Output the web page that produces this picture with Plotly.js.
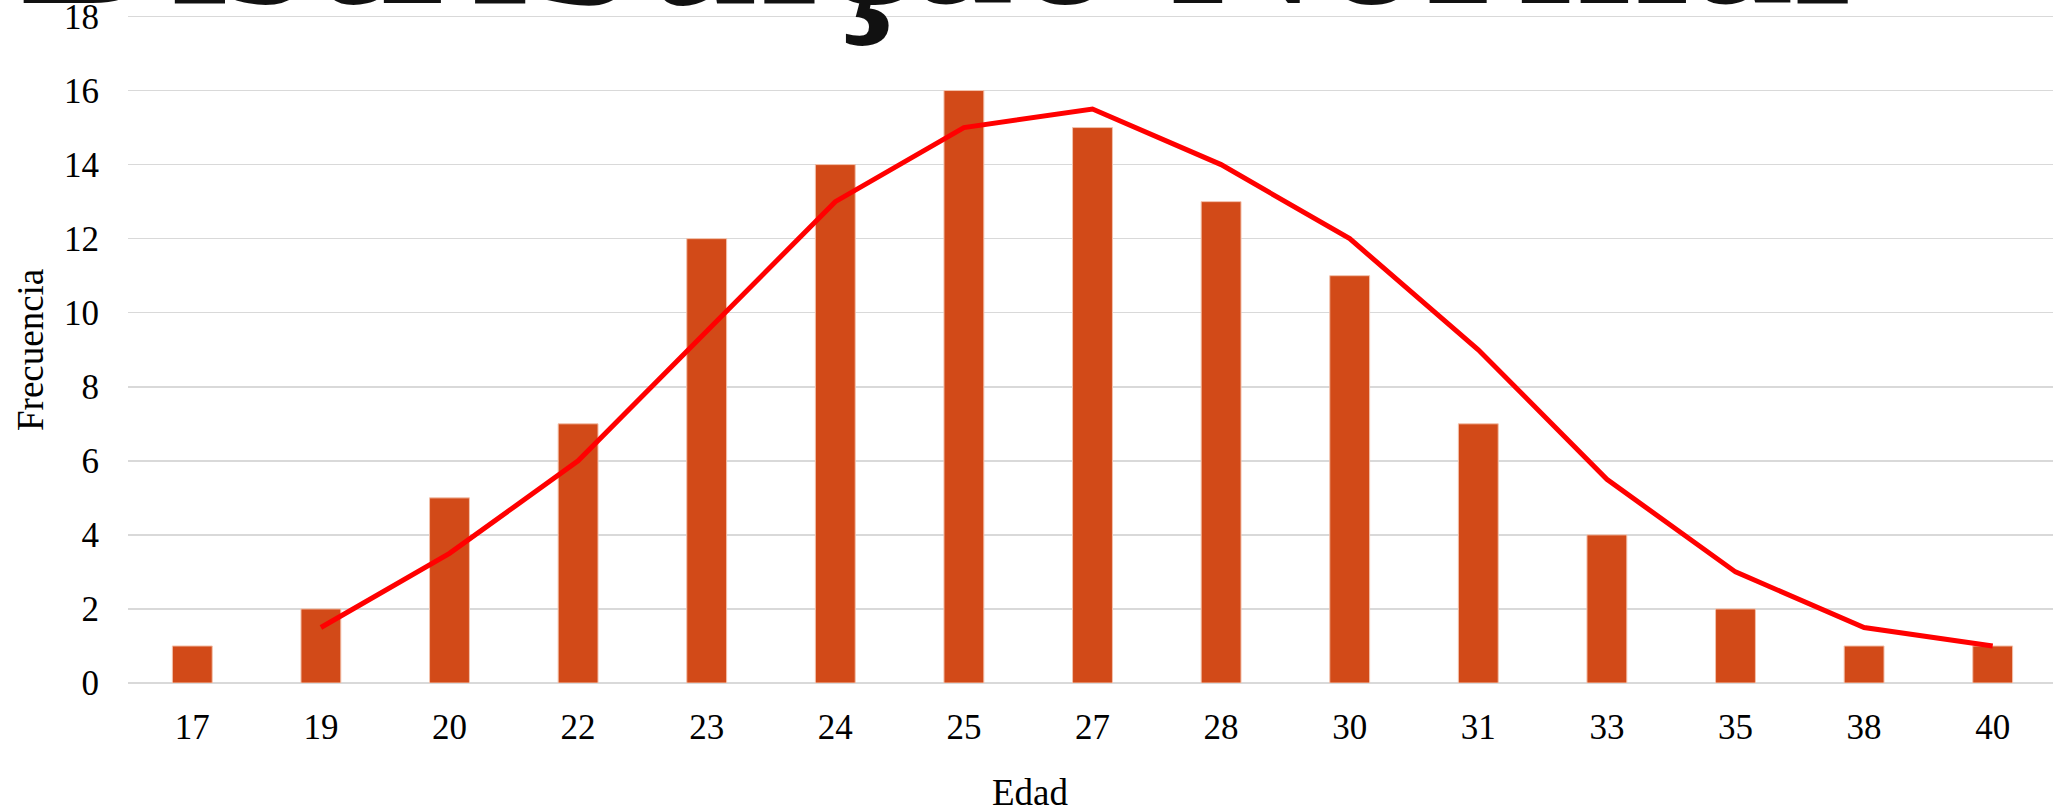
<!DOCTYPE html>
<html>
<head>
<meta charset="utf-8">
<script src="https://cdn.plot.ly/plotly-3.0.1.min.js"></script>
<style>
  html, body { margin: 0; padding: 0; background: #ffffff; }
  #chart { width: 2053px; height: 811px; }
</style>
</head>
<body>
<div id="chart"></div>
<script>
// ---- data ----
const edades = ['17','19','20','22','23','24','25','27','28','30','31','33','35','38','40'];
const frecuencia = [1, 2, 5, 7, 12, 14, 16, 15, 13, 11, 7, 4, 2, 1, 1];
const curvaEdades = ['19','20','22','23','24','25','27','28','30','31','33','35','38','40'];
const curvaNormal = [1.5, 3.5, 6, 9.5, 13, 15, 15.5, 14, 12, 9, 5.5, 3, 1.5, 1];
const yTicks = [0, 2, 4, 6, 8, 10, 12, 14, 16, 18];

const tituloTexto = 'Distribuição Normal';
const ejeX = 'Edad';
const ejeY = 'Frecuencia';

const W = 2053, H = 811;
const mL = 128, mR = 0, mT = 15, mB = 128;
const plotW = W - mL - mR, plotH = H - mT - mB;
const px = p => (p - mL) / plotW;
const py = p => (H - mB - p) / plotH;

const serif = '"Liberation Serif", "Times New Roman", serif';

const bars = {
  type: 'bar',
  x: edades,
  y: frecuencia,
  marker: { color: '#D24A18', line: { color: '#F3C2AC', width: 1 } },
  hoverinfo: 'x+y'
};
const line = {
  type: 'scatter',
  mode: 'lines',
  x: curvaEdades,
  y: curvaNormal,
  line: { color: '#FF0000', width: 5 },
  hoverinfo: 'x+y'
};

const layout = {
  width: W, height: H,
  margin: { l: mL, r: mR, t: mT, b: mB, pad: 0 },
  paper_bgcolor: '#ffffff',
  plot_bgcolor: '#ffffff',
  showlegend: false,
  bargap: 0.69,
  font: { family: serif, color: '#000000', size: 35 },
  xaxis: {
    type: 'category',
    categoryorder: 'array',
    categoryarray: edades,
    range: [-0.5, 14.469],
    showgrid: false,
    showline: false,
    zeroline: false,
    ticks: '',
    ticklabelstandoff: 20,
    ticklabeloverflow: 'allow',
    tickfont: { family: serif, size: 35, color: '#000000' }
  },
  yaxis: {
    range: [0, 18.04],
    tickvals: yTicks,
    ticktext: yTicks.map(String),
    showgrid: true,
    gridcolor: '#D9D9D9',
    gridwidth: 1.5,
    zeroline: true,
    zerolinecolor: '#D9D9D9',
    zerolinewidth: 1.5,
    showline: false,
    ticks: '',
    ticklabelstandoff: 28,
    ticklabeloverflow: 'allow',
    tickfont: { family: serif, size: 35, color: '#000000' }
  },
  annotations: [
    {
      text: tituloTexto,
      xref: 'paper', yref: 'paper',
      x: px(18), y: py(50),
      xanchor: 'left', yanchor: 'bottom',
      showarrow: false,
      font: { family: serif, size: 208, color: '#111111', weight: 'bold' }
    },
    {
      text: ejeY,
      xref: 'paper', yref: 'paper',
      x: px(30), y: py(350),
      xanchor: 'center', yanchor: 'middle',
      textangle: -90,
      showarrow: false,
      font: { family: serif, size: 37, color: '#000000' }
    },
    {
      text: ejeX,
      xref: 'paper', yref: 'paper',
      x: px(1030), y: py(792),
      xanchor: 'center', yanchor: 'middle',
      showarrow: false,
      font: { family: serif, size: 37, color: '#000000' }
    }
  ]
};

Plotly.newPlot('chart', [bars, line], layout, { displayModeBar: false, staticPlot: true });
</script>
</body>
</html>
